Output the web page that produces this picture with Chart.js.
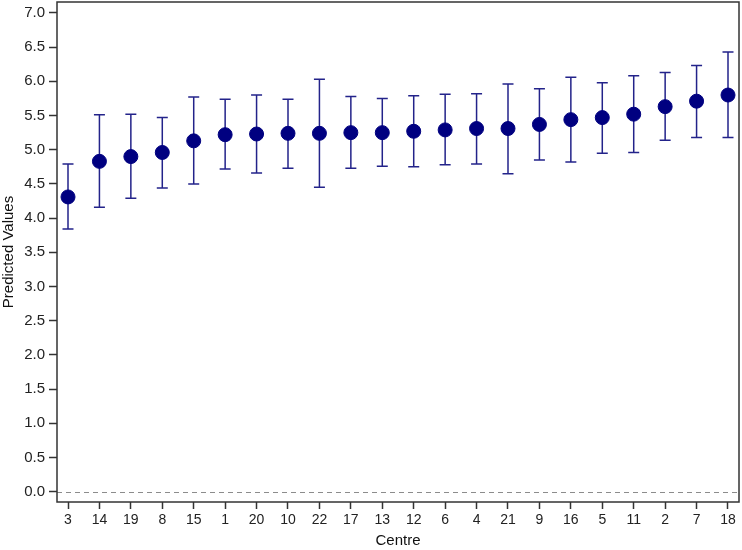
<!DOCTYPE html>
<html>
<head>
<meta charset="utf-8">
<script src="https://cdn.jsdelivr.net/npm/chart.js@4/dist/chart.umd.min.js"></script>
<style>
  html, body { margin: 0; padding: 0; background: #fff; }
  #wrap { width: 742px; height: 550px; }
</style>
</head>
<body>
<div id="wrap"><canvas id="chart"></canvas></div>
<script>
const centres = ["3", "14", "19", "8", "15", "1", "20", "10", "22", "17", "13",
  "12", "6", "4", "21", "9", "16", "5", "11", "2", "7", "18"];
const predicted = [4.31, 4.83, 4.90, 4.96, 5.13, 5.22, 5.23, 5.24, 5.24, 5.25, 5.25,
  5.27, 5.29, 5.31, 5.31, 5.37, 5.44, 5.47, 5.52, 5.63, 5.71, 5.80];
const lower = [3.84, 4.16, 4.29, 4.44, 4.50, 4.72, 4.66, 4.73, 4.45, 4.73, 4.76,
  4.75, 4.78, 4.79, 4.65, 4.85, 4.82, 4.95, 4.96, 5.14, 5.18, 5.18];
const upper = [4.79, 5.51, 5.52, 5.47, 5.77, 5.74, 5.80, 5.74, 6.03, 5.78, 5.75,
  5.79, 5.81, 5.82, 5.96, 5.89, 6.06, 5.98, 6.08, 6.13, 6.23, 6.43];
const yTicks = [0, 0.5, 1, 1.5, 2, 2.5, 3, 3.5, 4, 4.5, 5, 5.5, 6, 6.5, 7];

const navy = "#000080";
const barColor = "#23238a";

// error bars + zero reference line, drawn under the points
const errorBars = {
  id: "errorBars",
  beforeDatasetsDraw(chart) {
    const { ctx, scales: { x, y }, chartArea } = chart;
    ctx.save();
    ctx.strokeStyle = "#8c8c8c";
    ctx.lineWidth = 1;
    ctx.setLineDash([5, 4]);
    const y0 = Math.round(y.getPixelForValue(0)) + 0.5;
    ctx.beginPath();
    ctx.moveTo(chartArea.left, y0);
    ctx.lineTo(chartArea.right, y0);
    ctx.stroke();
    ctx.setLineDash([]);

    ctx.strokeStyle = barColor;
    ctx.lineWidth = 1.5;
    const cap = 5.5;
    centres.forEach((c, i) => {
      const px = x.getPixelForValue(i);
      const top = y.getPixelForValue(upper[i]);
      const bot = y.getPixelForValue(lower[i]);
      ctx.beginPath();
      ctx.moveTo(px, top);
      ctx.lineTo(px, bot);
      ctx.moveTo(px - cap, top);
      ctx.lineTo(px + cap, top);
      ctx.moveTo(px - cap, bot);
      ctx.lineTo(px + cap, bot);
      ctx.stroke();
    });
    ctx.restore();
  },
  afterDraw(chart) {
    const { ctx, chartArea } = chart;
    ctx.save();
    ctx.strokeStyle = "#333";
    ctx.lineWidth = 1.5;
    ctx.strokeRect(chartArea.left, chartArea.top,
      chartArea.right - chartArea.left, chartArea.bottom - chartArea.top);
    ctx.restore();
  }
};

new Chart(document.getElementById("chart"), {
  type: "scatter",
  data: {
    datasets: [{
      label: "Predicted Values",
      data: predicted.map((v, i) => ({ x: i, y: v })),
      backgroundColor: navy,
      borderColor: navy,
      pointRadius: 7,
      pointHoverRadius: 7
    }]
  },
  options: {
    responsive: true,
    maintainAspectRatio: false,
    animation: false,
    layout: { autoPadding: false, padding: { top: 2, right: 3, left: 0, bottom: 0 } },
    plugins: {
      legend: { display: false },
      tooltip: { enabled: false }
    },
    scales: {
      x: {
        type: "linear",
        min: -0.35,
        max: 21.35,
        afterBuildTicks: (scale) => {
          scale.ticks = centres.map((c, i) => ({ value: i }));
        },
        afterFit: (scale) => {
          scale.height = 48;
          scale.paddingLeft = 0;
          scale.paddingRight = 0;
        },
        ticks: {
          callback: (v) => centres[v],
          color: "#222",
          font: { family: "Liberation Sans", size: 14 },
          padding: 3,
          maxRotation: 0,
          autoSkip: false
        },
        grid: {
          drawOnChartArea: false,
          tickLength: 7,
          tickColor: "#333",
          tickWidth: 1.5
        },
        border: { display: false },
        title: {
          display: true,
          text: "Centre",
          color: "#111",
          font: { family: "Liberation Sans", size: 15 },
          padding: { top: 0, bottom: 0 }
        }
      },
      y: {
        type: "linear",
        min: -0.15,
        max: 7.16,
        afterBuildTicks: (scale) => {
          scale.ticks = yTicks.map((v) => ({ value: v }));
        },
        afterFit: (scale) => {
          scale.width = 57;
          scale.paddingTop = 0;
          scale.paddingBottom = 0;
        },
        ticks: {
          callback: (v) => Number(v).toFixed(1),
          color: "#222",
          font: { family: "Liberation Sans", size: 15 },
          padding: 4
        },
        grid: {
          drawOnChartArea: false,
          tickLength: 8,
          tickColor: "#333",
          tickWidth: 1.5
        },
        border: { display: false },
        title: {
          display: true,
          text: "Predicted Values",
          color: "#111",
          font: { family: "Liberation Sans", size: 15 },
          padding: { top: 0, bottom: 0 }
        }
      }
    }
  },
  plugins: [errorBars]
});
</script>
</body>
</html>
